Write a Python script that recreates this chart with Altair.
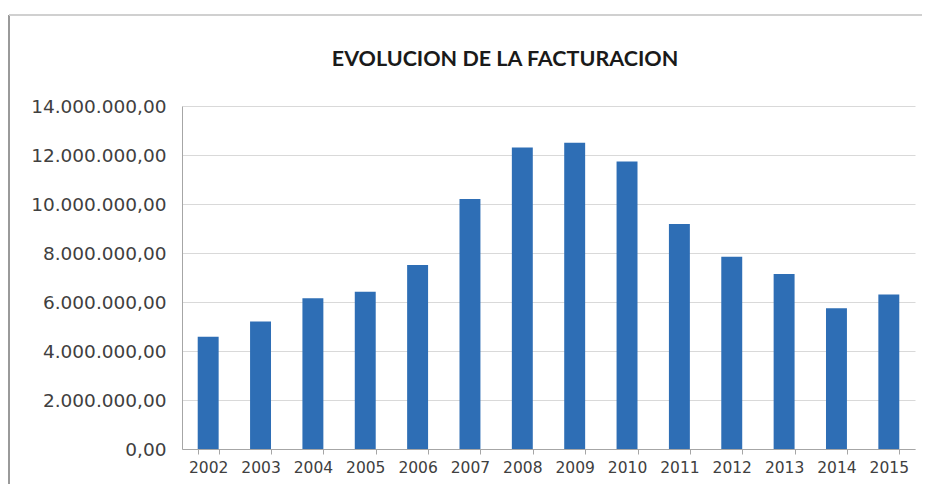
import altair as alt
import pandas as pd

years = ["2002", "2003", "2004", "2005", "2006", "2007", "2008",
         "2009", "2010", "2011", "2012", "2013", "2014", "2015"]
facturacion = [4580000, 5200000, 6150000, 6420000, 7510000, 10200000, 12310000,
               12500000, 11730000, 9180000, 7850000, 7140000, 5740000, 6310000]
y_ticks = [0, 2000000, 4000000, 6000000, 8000000, 10000000, 12000000, 14000000]
title_text = ["EVOLUCION DE LA FACTURACION"]

df = pd.DataFrame({"year": years, "value": facturacion})
tdf = pd.DataFrame({"t": title_text})

label_expr = ("replace(replace(replace(format(datum.value, ',.2f'), regexp(',', 'g'), '#'),"
              " regexp('\\\\.', 'g'), ','), regexp('#', 'g'), '.')")

bars = alt.Chart(df).mark_bar(color="#2E6EB5").encode(
    x=alt.X("year:N", title=None, sort=years,
            scale=alt.Scale(paddingInner=0.6, paddingOuter=0.3),
            axis=alt.Axis(labelAngle=0, labelFont="DejaVu Sans", labelFontSize=15.5,
                          labelColor="#404040", labelPadding=6,
                          tickBand="extent", tickSize=5, tickColor="#a6a6a6",
                          domainColor="#a6a6a6", grid=False)),
    y=alt.Y("value:Q", title=None,
            scale=alt.Scale(domain=[0, 14000000], nice=False),
            axis=alt.Axis(values=y_ticks, labelExpr=label_expr, labelFont="DejaVu Sans",
                          labelFontSize=18.5, labelColor="#404040", labelPadding=16,
                          ticks=False, domain=True, domainColor="#a6a6a6",
                          gridColor="#d9d9d9", gridWidth=1)),
)

title = alt.Chart(tdf).mark_text(font="Lato", fontSize=21.5, fontWeight="bold",
                                 color="#1a1a1a", align="center", baseline="middle").encode(
    text="t:N", x=alt.value(323), y=alt.value(-46))

# outer frame of the chart area (as seen on the scanned page)
frame_left = alt.Chart(tdf).mark_rule(color="#9a9a9a", strokeWidth=2).encode(
    x=alt.value(-173), y=alt.value(-91), y2=alt.value(386))
frame_top = alt.Chart(tdf).mark_rule(color="#d0d0d0", strokeWidth=2).encode(
    x=alt.value(-173), x2=alt.value(748), y=alt.value(-91))

chart = alt.layer(bars, title, frame_left, frame_top).properties(
    width=733,
    height=343,
    autosize=alt.AutoSizeParams(type="none"),
    padding={"left": 174, "top": 98, "right": 7, "bottom": 35},
).configure(background="white").configure_view(strokeWidth=0)

chart.save("out.html", embed_options={"renderer": "svg", "actions": False})
